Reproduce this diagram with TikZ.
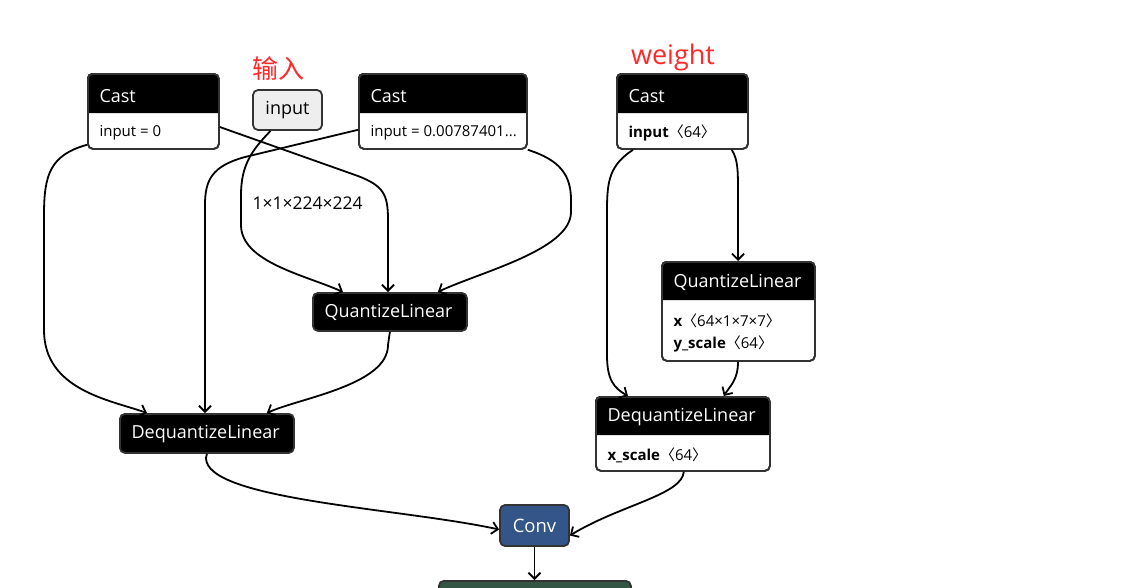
\documentclass[tikz,border=0pt]{standalone}
\usepackage{fontspec}
\setmainfont{Open Sans}
\newfontfamily\cjk{Noto Sans CJK SC}
\usetikzlibrary{arrows.meta,calc}
\definecolor{bordergray}{HTML}{333333}
\definecolor{convblue}{RGB}{51,85,136}
\definecolor{normgreen}{RGB}{51,85,68}
\definecolor{inputgray}{HTML}{EEEEEE}
\definecolor{annred}{HTML}{FF2A2A}
\newcommand{\ang}[1]{{\cjk 〈}#1{\cjk 〉}}
\tikzset{
  x=1pt,y=-1pt,
  box/.style={draw=bordergray,line width=1.8pt,rounded corners=5pt,anchor=north west,inner sep=0pt,fill=white},
  hdrtext/.style={anchor=west,text=white,font=\fontsize{18}{21}\selectfont},
  bodytext/.style={anchor=west,text=black,font=\fontsize{15}{18}\selectfont},
  edge/.style={draw=black,line width=1.8pt,-{Straight Barb[length=6pt,width=12pt,line width=1.8pt]}},
  ann/.style={text=annred,font=\fontsize{27}{32}\selectfont},
}
\begin{document}
\begin{tikzpicture}
\useasboundingbox (0,0) rectangle (1124,587);
\clip (0,0) rectangle (1124,587);

% ---------- Cast 1 ----------
\node[box,minimum width=131pt,minimum height=75pt] (c1) at (87,73) {};
\fill[black,rounded corners=5pt] (87,113) [sharp corners] -- (87,100) [rounded corners=5pt] -- (87,73) -- (218,73) [sharp corners] -- (218,113) -- cycle;
\node[box,minimum width=131pt,minimum height=75pt,fill=none] at (87,73) {};
\node[hdrtext] (c1h) at (96,96) {Cast};
\node[bodytext] (c1b) at (96,133) {input = 0};

% ---------- input ----------
\node[box,fill=inputgray,minimum width=69pt,minimum height=40pt,anchor=center,font=\fontsize{18}{21}\selectfont] (inp) at (287.5,110) {input};
\node[ann,font=\cjk\fontsize{26}{30}\selectfont] (lbl1) at (278,69) {输入};

% ---------- Cast 2 ----------
\node[box,minimum width=168pt,minimum height=75pt] (c2) at (358,73) {};
\fill[black,rounded corners=5pt] (358,113) [sharp corners] -- (358,100) [rounded corners=5pt] -- (358,73) -- (526,73) [sharp corners] -- (526,113) -- cycle;
\node[box,minimum width=168pt,minimum height=75pt,fill=none] at (358,73) {};
\node[hdrtext] (c2h) at (367,96) {Cast};
\node[bodytext] (c2b) at (367,133) {input = 0.00787401...};

% ---------- Cast 3 ----------
\node[ann] (lbl2) at (673,57) {weight};
\node[box,minimum width=131pt,minimum height=75pt] (c3) at (616,73) {};
\fill[black,rounded corners=5pt] (616,113) [sharp corners] -- (616,100) [rounded corners=5pt] -- (616,73) -- (747,73) [sharp corners] -- (747,113) -- cycle;
\node[box,minimum width=131pt,minimum height=75pt,fill=none] at (616,73) {};
\node[hdrtext] (c3h) at (625,96) {Cast};
\node[bodytext] (c3b) at (625,133) {\textbf{input}\ang{64}};

% ---------- QuantizeLinear 1 ----------
\node[box,fill=black,minimum width=154pt,minimum height=38pt] (q1) at (312,292) {};
\node[hdrtext] (q1h) at (321,312) {QuantizeLinear};

% ---------- QuantizeLinear 2 ----------
\node[box,minimum width=153pt,minimum height=99pt] (q2) at (661,261) {};
\fill[black,rounded corners=5pt] (661,300) [sharp corners] -- (661,285) [rounded corners=5pt] -- (661,261) -- (814,261) [sharp corners] -- (814,300) -- cycle;
\node[box,minimum width=153pt,minimum height=99pt,fill=none] at (661,261) {};
\node[hdrtext] (q2h) at (670,282) {QuantizeLinear};
\node[bodytext] (q2b1) at (670,321) {\textbf{x}\ang{64×1×7×7}};
\node[bodytext] (q2b2) at (670,344) {\textbf{y\_scale}\ang{64}};

% ---------- DequantizeLinear 1 ----------
\node[box,fill=black,minimum width=174pt,minimum height=39pt] (d1) at (119,413) {};
\node[hdrtext] (d1h) at (128,434) {DequantizeLinear};

% ---------- DequantizeLinear 2 ----------
\node[box,minimum width=174pt,minimum height=74pt] (d2) at (595,396) {};
\fill[black,rounded corners=5pt] (595,435) [sharp corners] -- (595,420) [rounded corners=5pt] -- (595,396) -- (769,396) [sharp corners] -- (769,435) -- cycle;
\node[box,minimum width=174pt,minimum height=74pt,fill=none] at (595,396) {};
\node[hdrtext] (d2h) at (604,417) {DequantizeLinear};
\node[bodytext] (d2b) at (604,455) {\textbf{x\_scale}\ang{64}};

% ---------- Conv ----------
\node[box,fill=convblue,minimum width=69pt,minimum height=41pt,anchor=center,text=white,font=\fontsize{18.5}{21}\selectfont] (conv) at (534.5,525.5) {Conv};

% ---------- next node (cut off) ----------
\node[box,fill=normgreen,minimum width=192pt,minimum height=40pt] (bn) at (438,580) {};

% ---------- edges ----------
\draw[edge] ([yshift=5pt]c1.south west) .. controls (50,155) and (44,175) .. (44,215) -- (44,330) .. controls (44,390) and (110,400) .. ([xshift=28pt]d1.north west);
\draw[edge] ([yshift=-54pt]c1.north east) -- (358,176) .. controls (384,186) and (388,195) .. (388,220) -- ([xshift=76pt]q1.north west);
\draw[edge] ([xshift=-17pt]inp.south) .. controls (252,150) and (241,165) .. (241,195) -- (241,225) .. controls (241,262) and (305,275) .. ([xshift=31pt]q1.north west);
\draw[edge] ([yshift=20pt]c2.south west) -- (245,157) .. controls (212,166) and (205,180) .. (205,205) -- ([xshift=86pt]d1.north west);
\draw[edge] (c2.south east) .. controls (560,160) and (571,175) .. (571,200) -- (571,212) .. controls (571,250) and (480,272) .. ([xshift=-30pt]q1.north east);
\draw[edge] (q1.south) -- (388,345) .. controls (388,385) and (300,398) .. ([xshift=-28pt]d1.north east);
\draw[edge] (d1.south) -- (206,458) .. controls (206,500) and (400,508) .. ([yshift=-4pt]conv.west);
\draw[edge] ([xshift=17pt]c3.south west) .. controls (610,165) and (607,180) .. (607,210) -- (607,355) .. controls (607,380) and (614,388) .. ([xshift=33pt]d2.north west);
\draw[edge] ([xshift=-17pt]c3.south east) .. controls (738,160) and (738,170) .. (738,195) -- ([xshift=77pt]q2.north west);
\draw[edge] ([xshift=77pt]q2.south west) .. controls (738,380) and (730,386) .. ([xshift=-47pt]d2.north east);
\draw[edge] ([xshift=-87pt]d2.south east) .. controls (682,495) and (620,505) .. ([yshift=-10pt]conv.east);
\draw[edge] (conv.south) -- (bn.north -| conv.south);

\node[font=\fontsize{17.5}{20}\selectfont,anchor=west] (shape) at (249,203) {1×1×224×224};
\end{tikzpicture}
\end{document}
